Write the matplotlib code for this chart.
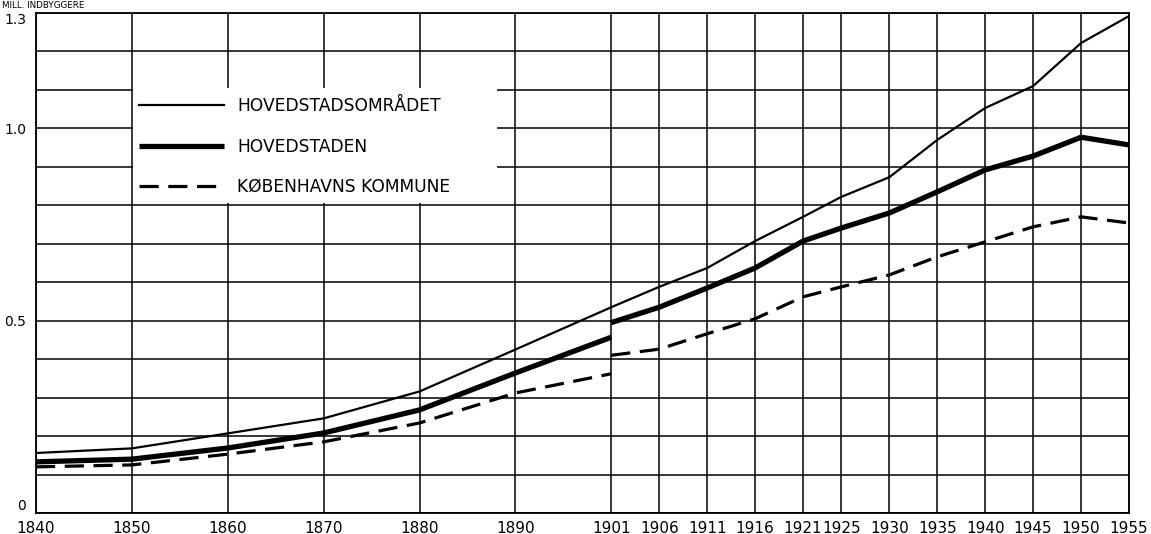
import matplotlib.pyplot as plt

############################################################
# data (mill. persons)
years = [1840, 1850, 1860, 1870, 1880, 1890, 1901, 1906, 1911, 1916,
         1921, 1925, 1930, 1935, 1940, 1945, 1950, 1955]

omraadet = [0.156, 0.168, 0.207, 0.246, 0.316, 0.425, 0.535, 0.588, 0.637, 0.707,
            0.770, 0.822, 0.873, 0.970, 1.053, 1.110, 1.222, 1.292]

# hovedstaden and kommune break at 1901 (new definition)
hoved_old_years = [1840, 1850, 1860, 1870, 1880, 1890, 1901]
hoved_old = [0.133, 0.140, 0.169, 0.208, 0.268, 0.364, 0.457]
hoved_new_years = [1901, 1906, 1911, 1916, 1921, 1925, 1930, 1935, 1940, 1945, 1950, 1955]
hoved_new = [0.495, 0.535, 0.585, 0.637, 0.707, 0.741, 0.780, 0.835, 0.892, 0.928, 0.977, 0.957]

komm_old_years = [1840, 1850, 1860, 1870, 1880, 1890, 1901]
komm_old = [0.120, 0.125, 0.153, 0.185, 0.234, 0.312, 0.362]
komm_new_years = [1901, 1906, 1911, 1916, 1921, 1925, 1930, 1935, 1940, 1945, 1950, 1955]
komm_new = [0.410, 0.426, 0.466, 0.505, 0.562, 0.588, 0.619, 0.666, 0.705, 0.744, 0.770, 0.754]

tick_years = years
y_ticks = [0, 0.5, 1.0, 1.3]
y_labels = ['0', '0.5', '1.0', '1.3']

labels = ['HOVEDSTADSOMRÅDET', 'HOVEDSTADEN', 'KØBENHAVNS KOMMUNE']

############################################################
# the axis squeezes 1890-1901 into ten years
def pos(yrs):
    return [y if y <= 1890 else y - 1 for y in yrs]


fig = plt.figure(figsize=(11.51, 5.34), dpi=100)
ax = fig.add_axes([36 / 1151, 1 - 513 / 534, 1093 / 1151, 500 / 534])

# grid
for x in pos(tick_years):
    ax.axvline(x, color='black', lw=1.1, zorder=1)
for i in range(14):
    ax.axhline(i / 10, color='black', lw=1.1, zorder=1)

# white patch under the legend hides the grid
ax.add_patch(plt.Rectangle((0.089, 0.62), 0.333, 0.23, transform=ax.transAxes,
                           facecolor='white', edgecolor='none', zorder=2))

l1, = ax.plot(pos(years), omraadet, color='black', lw=1.6, zorder=3)
l2, = ax.plot(pos(hoved_old_years), hoved_old, color='black', lw=3.8, zorder=3,
              solid_capstyle='butt')
ax.plot(pos(hoved_new_years), hoved_new, color='black', lw=3.8, zorder=3,
        solid_capstyle='butt')
l3, = ax.plot(pos(komm_old_years), komm_old, color='black', lw=2.3, zorder=3,
              dashes=(6, 3), dash_capstyle='butt')
ax.plot(pos(komm_new_years), komm_new, color='black', lw=2.3, zorder=3,
        dashes=(6, 3), dash_capstyle='butt')

leg = ax.legend([l1, l2, l3], labels, loc='upper left',
                bbox_to_anchor=(0.08, 0.862), frameon=False,
                handlelength=5.0, handletextpad=0.75, labelspacing=1.3,
                fontsize=12.3)
leg.set_zorder(4)

ax.set_xlim(1840, 1954)
ax.set_ylim(0, 1.3)
ax.set_xticks(pos(tick_years))
ax.set_xticklabels([str(y) for y in tick_years], fontsize=11)
ax.set_yticks(y_ticks)
ax.set_yticklabels(y_labels, fontsize=10)
ax.tick_params(axis='both', length=0)
ax.tick_params(axis='x', pad=6)
ax.tick_params(axis='y', pad=7)
ax.get_yticklabels()[0].set_va('bottom')
ax.get_yticklabels()[-1].set_va('top')

for s in ax.spines.values():
    s.set_color('black')
    s.set_linewidth(1.3)

# unit label in the top-left corner
fig.text(0.002, 0.999, 'MILL. INDBYGGERE', fontsize=6.3, va='top')

fig.savefig('out.png', dpi=100)
